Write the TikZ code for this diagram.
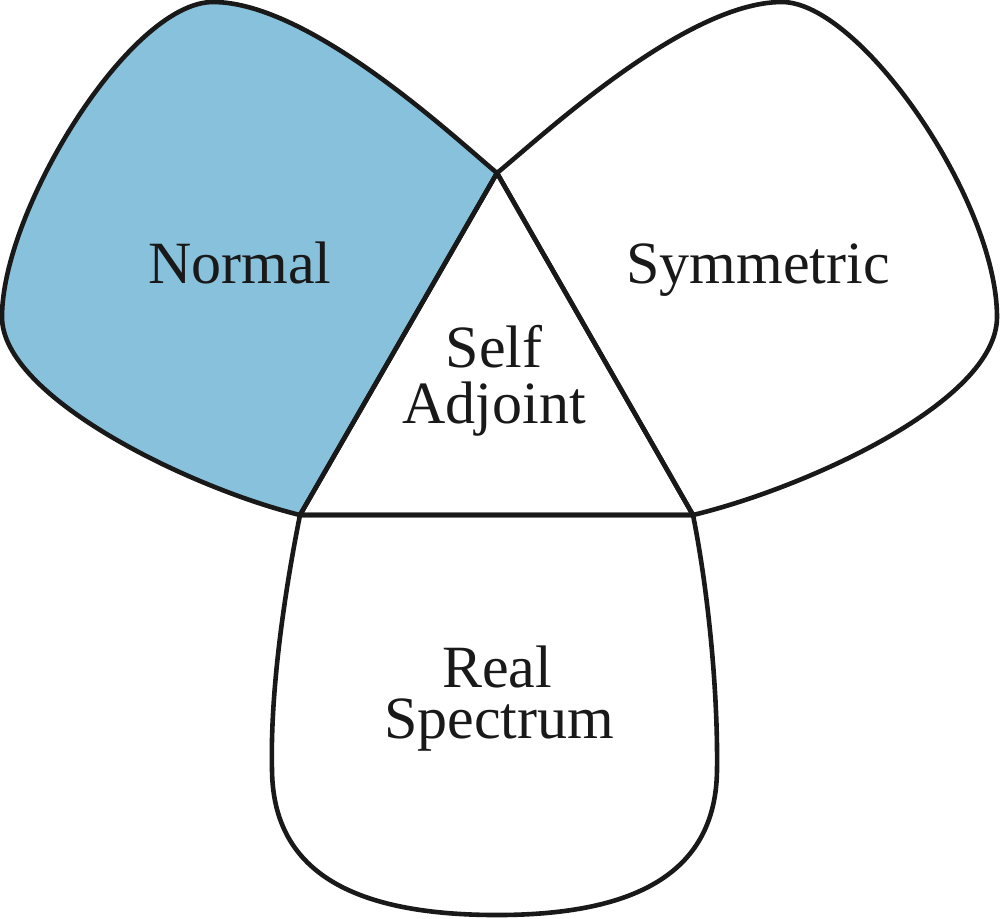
\documentclass[tikz,border=0pt]{standalone}
\usepackage{fontspec}
\setmainfont{Liberation Serif}
\definecolor{normalblue}{RGB}{136,193,219}
\begin{document}
\begin{tikzpicture}[x=0.5pt,y=-0.5pt,
  outline/.style={line width=2.3pt,line join=round,black!90},
  lbl/.style={font=\fontsize{30}{30}\selectfont,text=black!90,anchor=base,inner sep=0pt,
    text height=0.7em,text depth=0.22em},
  nodesc/.style={text depth=0pt}]
\useasboundingbox (0,0) rectangle (1000,918);
\coordinate (T) at (497,173);
\coordinate (L) at (300,515);
\coordinate (R) at (693,515);
% Normal lobe
\filldraw[outline,fill=normalblue] (T)
  .. controls (455,138) and (310,2) .. (213,2)
  .. controls (130,2) and (2,210) .. (2,317)
  .. controls (2,397) and (190,488) .. (L) -- cycle;
% Symmetric lobe
\draw[outline] (T)
  .. controls (540,138) and (685,2) .. (782,2)
  .. controls (860,2) and (997,200) .. (997,317)
  .. controls (997,402) and (805,488) .. (R) -- cycle;
% Real spectrum lobe
\draw[outline] (L)
  .. controls (285,590) and (270,690) .. (272,770)
  .. controls (273,870) and (350,915) .. (497,915)
  .. controls (640,915) and (716,870) .. (717,770)
  .. controls (718,690) and (708,590) .. (R) -- cycle;
% Triangle
\draw[outline] (T) -- (L) -- (R) -- cycle;
% Labels
\node[lbl] (normal) at (240,283) {Normal};
\node[lbl] (symm) at (758,283) {Symmetric};
\node[lbl,nodesc] (self) at (494,367) {Self};
\node[lbl] (adj) at (494,423) {Adjoint};
\node[lbl,nodesc] (real) at (497,687) {Real};
\node[lbl] (spec) at (499,738) {Spectrum};
\end{tikzpicture}
\end{document}
